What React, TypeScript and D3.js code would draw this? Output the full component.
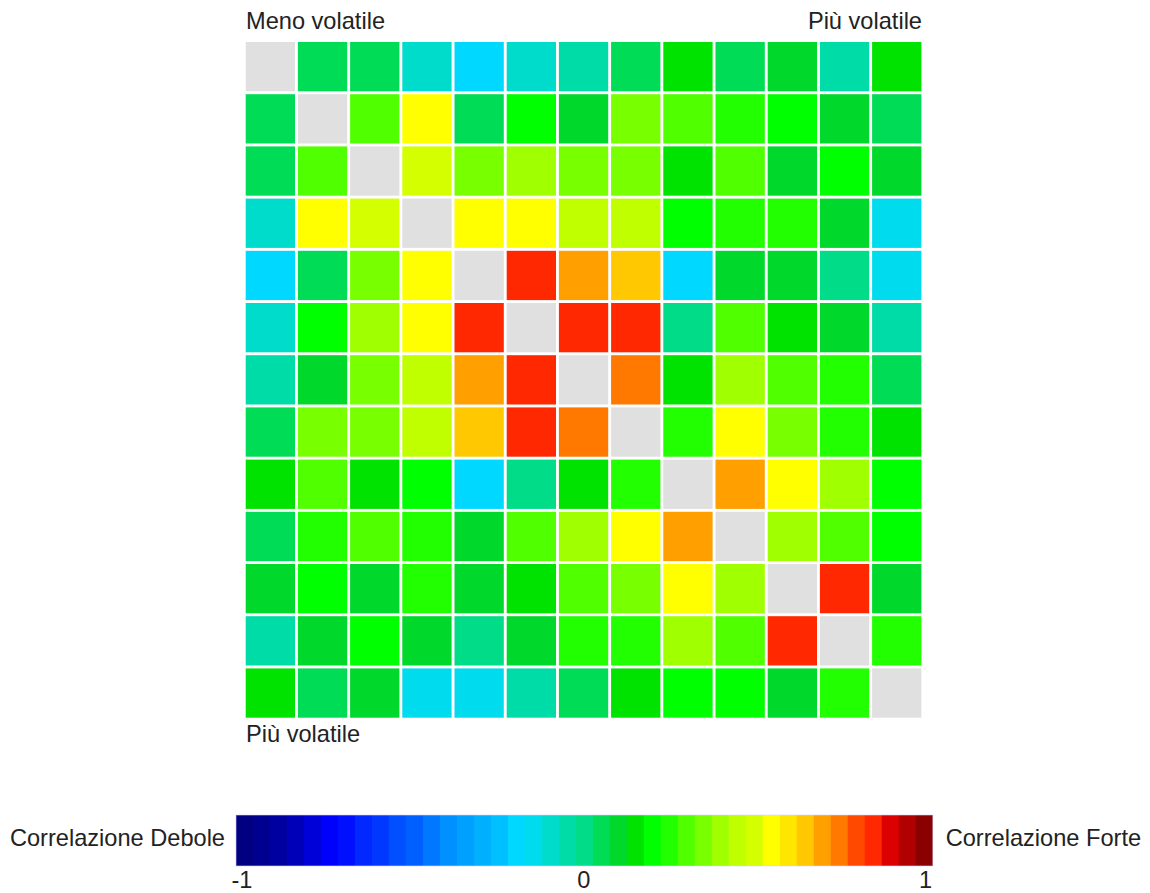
import React from "react";
import * as d3 from "d3";

// 41-step discrete palette from -1 (weak) to +1 (strong)
const palette: string[] = [
  "#000080", "#000090", "#0000a0", "#0000b8", "#0000d8", "#0000ff", "#0010ff", "#0028ff",
  "#0038ff", "#0050ff", "#0060ff", "#0078ff", "#0090ff", "#00a0ff", "#00b0ff", "#00c0ff",
  "#00d8ff", "#00dcee", "#00dccc", "#00dca8", "#00dc88", "#00dc55", "#00d82c", "#00e200",
  "#00ff00", "#22ff00", "#50ff00", "#78ff00", "#a0ff00", "#bfff00", "#d4ff00", "#ffff00",
  "#ffe600", "#ffc800", "#ffa000", "#ff7800", "#ff4800", "#ff2800", "#dc0000", "#b00000",
  "#8b0000",
];

const legendTicks: number[] = [-1, 0, 1];
const legendTickLabels: string[] = ["-1", "0", "1"];

// correlation matrix rows (null = diagonal)
const row0 = [null, 0.05, 0.05, -0.1, -0.2, -0.1, -0.05, 0.05, 0.15, 0.05, 0.1, -0.05, 0.15];
const row1 = [0.05, null, 0.3, 0.55, 0.05, 0.2, 0.1, 0.35, 0.3, 0.25, 0.2, 0.1, 0.05];
const row2 = [0.05, 0.3, null, 0.5, 0.35, 0.4, 0.35, 0.35, 0.15, 0.3, 0.1, 0.2, 0.1];
const row3 = [-0.1, 0.55, 0.5, null, 0.55, 0.55, 0.45, 0.45, 0.2, 0.25, 0.25, 0.1, -0.15];
const row4 = [-0.2, 0.05, 0.35, 0.55, null, 0.85, 0.7, 0.65, -0.2, 0.1, 0.1, 0.0, -0.15];
const row5 = [-0.1, 0.2, 0.4, 0.55, 0.85, null, 0.85, 0.85, 0.0, 0.3, 0.15, 0.1, -0.05];
const row6 = [-0.05, 0.1, 0.35, 0.45, 0.7, 0.85, null, 0.75, 0.15, 0.4, 0.3, 0.25, 0.05];
const row7 = [0.05, 0.35, 0.35, 0.45, 0.65, 0.85, 0.75, null, 0.25, 0.55, 0.35, 0.25, 0.15];
const row8 = [0.15, 0.3, 0.15, 0.2, -0.2, 0.0, 0.15, 0.25, null, 0.7, 0.55, 0.4, 0.2];
const row9 = [0.05, 0.25, 0.3, 0.25, 0.1, 0.3, 0.4, 0.55, 0.7, null, 0.4, 0.3, 0.2];
const row10 = [0.1, 0.2, 0.1, 0.25, 0.1, 0.15, 0.3, 0.35, 0.55, 0.4, null, 0.85, 0.1];
const row11 = [-0.05, 0.1, 0.2, 0.1, 0.0, 0.1, 0.25, 0.25, 0.4, 0.3, 0.85, null, 0.25];
const row12 = [0.15, 0.05, 0.1, -0.15, -0.15, -0.05, 0.05, 0.15, 0.2, 0.2, 0.1, 0.25, null];

const matrix: (number | null)[][] = [
  row0, row1, row2, row3, row4, row5, row6, row7, row8, row9, row10, row11, row12,
];

const W = 1150;
const H = 893;
const FONT = "'Liberation Sans', Arial, sans-serif";
const TEXT = "#222";
const DIAG = "#e0e0e0";

export default function App() {
  const n = matrix.length;
  const idx = d3.range(n);
  const x = d3.scaleBand<number>().domain(idx).range([244.25, 922.85]);
  const y = d3.scaleBand<number>().domain(idx).range([40.55, 719.15]);
  const gap = 2.9;

  const color = d3.scaleQuantize<string>().domain([-1, 1]).range(palette);

  const legendX = d3.scaleLinear().domain([-1, 1]).range([236, 932.7]);
  const tickX = d3.scaleLinear().domain([-1, 1]).range([242, 925.6]);
  const legTop = 815;
  const legH = 51;
  const legLabelY = 837.5;

  return (
    <svg
      width={W}
      height={H}
      style={{ position: "absolute", left: 0, top: 0, display: "block", background: "#fff" }}
      fontFamily={FONT}
    >
      <g>
        {matrix.map((row, r) =>
          row.map((v, c) => (
            <rect
              key={`${r}-${c}`}
              x={(x(c) as number) + gap / 2}
              y={(y(r) as number) + gap / 2}
              width={x.bandwidth() - gap}
              height={y.bandwidth() - gap}
              fill={v === null ? DIAG : color(v)}
            />
          ))
        )}
      </g>
      <text x={246} y={29} fontSize={23.6} fill={TEXT}>
        Meno volatile
      </text>
      <text x={922} y={29} fontSize={23.6} fill={TEXT} textAnchor="end">
        Più volatile
      </text>
      <text x={246} y={742} fontSize={23.6} fill={TEXT}>
        Più volatile
      </text>

      <g>
        {palette.map((c) => {
          const [a, b] = color.invertExtent(c);
          return (
            <rect
              key={c}
              x={legendX(a)}
              y={legTop}
              width={legendX(b) - legendX(a) + 0.3}
              height={legH}
              fill={c}
            />
          );
        })}
        <rect
          x={legendX(-1)}
          y={legTop}
          width={legendX(1) - legendX(-1)}
          height={legH}
          fill="none"
          stroke="#cfd8ff"
          strokeWidth={1}
          strokeOpacity={0.6}
        />
      </g>
      <text
        x={legendX(-1) - 11}
        y={legLabelY}
        fontSize={23.6}
        fill={TEXT}
        textAnchor="end"
        dominantBaseline="central"
      >
        Correlazione Debole
      </text>
      <text
        x={legendX(1) + 13}
        y={legLabelY}
        fontSize={23.6}
        fill={TEXT}
        dominantBaseline="central"
      >
        Correlazione Forte
      </text>
      {legendTicks.map((t, i) => (
        <text key={t} x={tickX(t)} y={888} fontSize={23.6} fill={TEXT} textAnchor="middle">
          {legendTickLabels[i]}
        </text>
      ))}
    </svg>
  );
}
